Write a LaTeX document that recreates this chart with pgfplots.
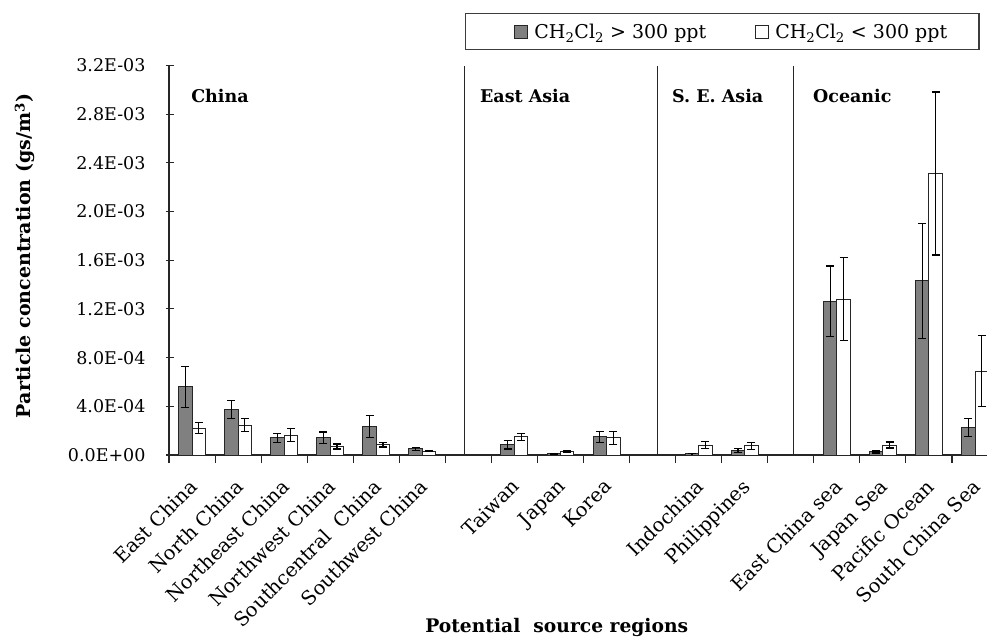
\documentclass[border=0pt]{standalone}
\usepackage{fontspec}
\setmainfont{DejaVu Serif}
\usepackage{pgfplots}
\pgfplotsset{compat=1.18}
\usepackage{pgfplotstable}
\definecolor{barg}{HTML}{808080}
\definecolor{edge}{HTML}{262626}

\pgfplotstableread{
x g ge w we
0 5.6e-4 1.7e-4 2.2e-4 0.45e-4
1 3.75e-4 0.74e-4 2.45e-4 0.54e-4
2 1.42e-4 0.36e-4 1.62e-4 0.54e-4
3 1.42e-4 0.47e-4 0.70e-4 0.20e-4
4 2.35e-4 0.90e-4 0.85e-4 0.20e-4
5 0.50e-4 0.10e-4 0.32e-4 0.05e-4
7 0.85e-4 0.35e-4 1.50e-4 0.28e-4
8 0.10e-4 0.03e-4 0.30e-4 0.05e-4
9 1.50e-4 0.45e-4 1.40e-4 0.55e-4
11 0.12e-4 0.02e-4 0.82e-4 0.27e-4
12 0.38e-4 0.15e-4 0.75e-4 0.28e-4
14 12.63e-4 2.9e-4 12.8e-4 3.4e-4
15 0.25e-4 0.08e-4 0.82e-4 0.25e-4
16 14.3e-4 4.7e-4 23.13e-4 6.7e-4
17 2.24e-4 0.74e-4 6.89e-4 2.9e-4
}\data

\begin{document}
\begin{tikzpicture}
\useasboundingbox (0pt,0pt) rectangle (987pt,641pt);
\begin{axis}[
  at={(169pt,186pt)}, anchor=south west,
  scale only axis, width=818pt, height=389.5pt,
  xmin=-0.5, xmax=17.26, ymin=0, ymax=0.0032,
  clip=false,
  axis x line*=bottom, axis y line*=left,
  axis line style={edge, line width=1.2pt},
  tick style={edge, line width=1.1pt},
  tick align=outside,
  major tick length=8pt,
  ytick style={xshift=5pt},
  xtick={-0.5,0.5,...,16.5},
  xticklabels={},
  extra x ticks={0,1,2,3,4,5,7,8,9,11,12,14,15,16,17},
  extra x tick labels={East China,North China,Northeast China,Northwest China,Southcentral\ \ China,Southwest China,Taiwan,Japan,Korea,Indochina,Philippines,East China sea,Japan Sea,Pacific Ocean,South China Sea},
  extra x tick style={major tick length=0pt, xticklabel style={xshift=-4pt, yshift=-21pt, rotate=45, anchor=north east, inner sep=1pt, font=\fontsize{19.5}{22}\selectfont}},
  ytick={0,0.0004,0.0008,0.0012,0.0016,0.002,0.0024,0.0028,0.0032},
  yticklabels={0.0E+00,4.0E-04,8.0E-04,1.2E-03,1.6E-03,2.0E-03,2.4E-03,2.8E-03,3.2E-03},
  scaled y ticks=false,
  ticklabel style={font=\fontsize{17.5}{20}\selectfont},
  yticklabel style={xshift=-12pt},
  ylabel={\textbf{Particle concentration (gs/m\textsuperscript{3})}},
  ylabel style={at={(axis description cs:-0.176,0.511)}, anchor=center, font=\fontsize{19}{22}\selectfont},
  xlabel={\textbf{Potential\ \ source regions}},
  xlabel style={at={(axis description cs:0.474,-0.4416)}, anchor=center, font=\fontsize{18.7}{22}\selectfont},
  legend columns=2,
  legend style={at={(0.9914,1.1348)}, anchor=north east, draw=edge!90, line width=1.5pt,
    font=\fontsize{19}{22}\selectfont, inner xsep=30pt, inner ysep=8pt,
    /tikz/every odd column/.append style={column sep=4pt},
    /tikz/every even column/.append style={column sep=28pt}},
  legend cell align=left,
]
\addplot[ybar, bar width=0.293, bar shift=0pt, fill=barg, draw=edge, line width=1pt,
  legend image code/.code={\path (-19pt,0pt); \draw[fill=barg, draw=edge, line width=1pt] (0pt,-6.5pt) rectangle (13pt,6.5pt);},
  error bars/.cd, y dir=both, y explicit,
  error bar style={line width=1.2pt, black},
  error mark options={rotate=90, mark size=4pt, line width=1.2pt, black}]
  table[x expr=\thisrow{x}-0.1465, y=g, y error=ge] {\data};
\addplot[ybar, bar width=0.293, bar shift=0pt, fill=white, draw=edge, line width=1pt,
  legend image code/.code={\path (-19pt,0pt); \draw[fill=white, draw=edge, line width=1pt] (0pt,-6.5pt) rectangle (13pt,6.5pt);},
  error bars/.cd, y dir=both, y explicit,
  error bar style={line width=1.2pt, black},
  error mark options={rotate=90, mark size=4pt, line width=1.2pt, black}]
  table[x expr=\thisrow{x}+0.1465, y=w, y error=we] {\data};
\legend{CH\textsubscript{2}Cl\textsubscript{2} > 300 ppt, CH\textsubscript{2}Cl\textsubscript{2} < 300 ppt}
\draw[edge, line width=1.2pt] (axis cs:5.92,0) -- (axis cs:5.92,0.0032);
\draw[edge, line width=1.2pt] (axis cs:10.1,0) -- (axis cs:10.1,0.0032);
\draw[edge, line width=1.2pt] (axis cs:13.05,0) -- (axis cs:13.05,0.0032);
\node[anchor=base west, font=\bfseries\fontsize{17.5}{20}\selectfont, inner sep=0pt] at (axis cs:-0.02,0.002896) {China};
\node[anchor=base west, font=\bfseries\fontsize{17.5}{20}\selectfont, inner sep=0pt] at (axis cs:6.25,0.002896) {East Asia};
\node[anchor=base west, font=\bfseries\fontsize{17.5}{20}\selectfont, inner sep=0pt] at (axis cs:10.42,0.002896) {S. E. Asia};
\node[anchor=base west, font=\bfseries\fontsize{17.5}{20}\selectfont, inner sep=0pt] at (axis cs:13.48,0.002896) {Oceanic};
\end{axis}
\end{tikzpicture}
\end{document}
